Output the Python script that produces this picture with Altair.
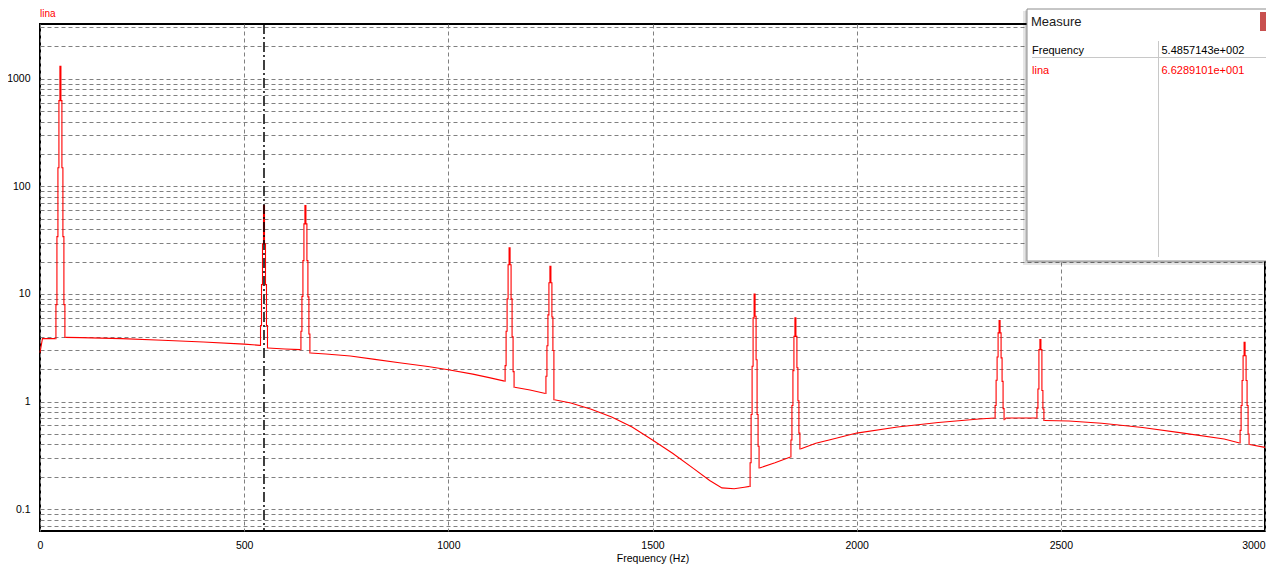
import altair as alt
import pandas as pd

# ---------------- data ----------------
# smooth background spectrum, broken into pieces between the peaks (Hz, amplitude)
base_segments = [
    [(0, 2.85), (6, 3.85), (37.8, 3.85)],
    [(62.2, 3.95), (100, 3.93), (200, 3.85), (300, 3.72), (400, 3.58), (500, 3.42), (538.8, 3.33)],
    [(558.3, 3.15), (600, 3.08), (637.8, 3.04)],
    [(662.2, 2.83), (700, 2.77), (760, 2.65), (820, 2.47), (880, 2.3), (950, 2.12),
     (1000, 1.98), (1060, 1.8), (1100, 1.67), (1137.8, 1.55)],
    [(1162.2, 1.36), (1200, 1.28), (1237.8, 1.19)],
    [(1259.8, 1.04), (1300, 0.97), (1350, 0.85), (1400, 0.72), (1450, 0.58), (1500, 0.44),
     (1550, 0.33), (1600, 0.24), (1640, 0.185), (1670, 0.158), (1700, 0.155), (1725, 0.16),
     (1737.8, 0.163)],
    [(1762.2, 0.242), (1800, 0.27), (1837.8, 0.306)],
    [(1862.2, 0.363), (1900, 0.41), (1935, 0.443), (2000, 0.51), (2100, 0.58), (2200, 0.64),
     (2300, 0.69), (2337.8, 0.705)],
    [(2362.2, 0.68), (2366, 0.705), (2440.2, 0.705)],
    [(2459.5, 0.667), (2520, 0.66), (2600, 0.63), (2700, 0.575), (2800, 0.51), (2900, 0.45),
     (2937.8, 0.413)],
    [(2962.2, 0.40), (3000, 0.376)],
]

# harmonic peaks: centre frequency and the bin levels across each peak
peak_centers = [50, 548.57, 650, 1150, 1250, 1750, 1850, 2350, 2450, 2950]
peak_levels = [
    [3.85, 7.96, 34.1, 149, 625, 1303, 625, 149, 34.1, 7.96, 3.95],
    [3.33, 5.1, 12.2, 29.2, 66.3, 29.2, 12.2, 5.1, 3.15],
    [3.04, 4.5, 9.5, 20.4, 44.8, 66.2, 44.8, 20.4, 9.4, 4.25, 2.83],
    [1.55, 2.16, 4.5, 9.0, 18.7, 26.8, 18.7, 9.0, 4.0, 1.9, 1.36],
    [1.19, 1.72, 3.3, 6.4, 12.7, 18.1, 12.7, 6.1, 2.98, 1.04],
    [0.163, 0.27, 0.76, 2.13, 6.0, 10.0, 6.2, 2.45, 0.76, 0.385, 0.242],
    [0.306, 0.44, 0.92, 1.94, 4.04, 6.0, 4.04, 2.06, 1.02, 0.51, 0.363],
    [0.705, 0.92, 1.58, 2.6, 4.35, 5.66, 4.35, 2.55, 1.54, 0.86, 0.68],
    [0.705, 0.87, 1.31, 3.04, 3.77, 3.04, 1.27, 0.855, 0.667],
    [0.413, 0.54, 0.92, 1.57, 2.67, 3.56, 2.67, 1.57, 0.92, 0.5, 0.4],
]
bin_width = 2.44  # Hz, frequency resolution

cursor_freq = 548.57
cursor_text = "5.4857143e+002"
cursor_value_text = "6.6289101e+001"

x_ticks = [0, 500, 1000, 1500, 2000, 2500, 3000]
y_grid = [0.07, 0.08, 0.09,
          0.1, 0.2, 0.3, 0.4, 0.5, 0.6, 0.7, 0.8, 0.9,
          1, 2, 3, 4, 5, 6, 7, 8, 9,
          10, 20, 30, 40, 50, 60, 70, 80, 90,
          100, 200, 300, 400, 500, 600, 700, 800, 900,
          1000, 2000, 3000]
y_labels = [0.1, 1, 10, 100, 1000]

# ---------------- tables ----------------
base_rows = []
for s, seg in enumerate(base_segments):
    for i, (f, v) in enumerate(seg):
        base_rows.append({"f": f, "v": v, "seg": s, "ord": i})
base_df = pd.DataFrame(base_rows)

peak_rows = []
for c, lv in zip(peak_centers, peak_levels):
    top = lv.index(max(lv))
    for i, v in enumerate(lv):
        peak_rows.append({"f": c + (i - top) * bin_width, "v": v, "peak": c, "ord": i})
peak_df = pd.DataFrame(peak_rows)

RED = "#ff0000"
FONT = "Liberation Sans"

x_scale = alt.Scale(domain=[0, 3000], nice=False)
y_scale = alt.Scale(type="log", domain=[0.0628, 3221], nice=False)

x_axis = alt.Axis(
    values=x_ticks, grid=True, ticks=False, tickSize=0, domain=False,
    labelPadding=9, labelFontSize=10.5, labelColor="black", format="d",
    labelAlign={"condition": {"test": "datum.value >= 3000", "value": "right"}, "value": "center"},
    title="Frequency (Hz)", titleFontSize=10.5, titleFontWeight="normal",
    titlePadding=3, titleColor="black",
)
y_axis = alt.Axis(
    values=y_grid, grid=True, ticks=False, tickSize=0, domain=False,
    labelPadding=10, labelFontSize=10.5, labelColor="black", format="~g",
    labelExpr="indexof([0.1, 1, 10, 100, 1000], datum.value) >= 0 ? datum.label : ''",
    labelOverlap=False, title=None,
)

baseline = alt.Chart(base_df).mark_line(color=RED, strokeWidth=1.1).encode(
    x=alt.X("f:Q", scale=x_scale, axis=x_axis),
    y=alt.Y("v:Q", scale=y_scale, axis=y_axis),
    detail="seg:N",
    order="ord:Q",
)

peaks = alt.Chart(peak_df).mark_line(color=RED, strokeWidth=1.1, interpolate="step").encode(
    x=alt.X("f:Q", scale=x_scale),
    y=alt.Y("v:Q", scale=y_scale),
    detail="peak:N",
    order="ord:Q",
)

cursor = alt.Chart(pd.DataFrame({"f": [cursor_freq]})).mark_rule(
    color="black", strokeWidth=1.5, strokeDash=[10, 3, 2, 3]
).encode(x=alt.X("f:Q", scale=x_scale))

one = pd.DataFrame({"a": [0]})


def box(x1, x2, y1, y2, **kw):
    return alt.Chart(one).mark_rect(**kw).encode(
        x=alt.value(x1), x2=alt.value(x2), y=alt.value(y1), y2=alt.value(y2))


def line(x1, x2, y1, y2, **kw):
    return alt.Chart(one).mark_rule(**kw).encode(
        x=alt.value(x1), x2=alt.value(x2), y=alt.value(y1), y2=alt.value(y2))


def label(txt, x, y, size=11, color="black"):
    return alt.Chart(one).mark_text(
        align="left", baseline="alphabetic", font=FONT, fontSize=size, color=color
    ).encode(x=alt.value(x), y=alt.value(y), text=alt.value(txt))


panel = [
    box(983, 1240, -13, 241, color="#000000", opacity=0.10),
    box(985, 1238, -14, 239, color="#000000", opacity=0.10),
    box(987, 1236, -15, 237, color="white", stroke="#8c8c8c", strokeWidth=1),
    box(1220, 1236, -12, 7, color="#c8504f"),
    label("Measure", 991, 2, size=13, color="#1a1a1a"),
    line(992, 1236, 33.5, 33.5, color="#c8c8c8", strokeWidth=1),
    line(1118.5, 1118.5, 17, 233, color="#c8c8c8", strokeWidth=1),
    label("Frequency", 992, 30),
    label(cursor_text, 1121.5, 30),
    label("lina", 992, 49.5, color=RED),
    label(cursor_value_text, 1121.5, 49.5, color=RED),
]

title = label("lina", 0, -7.5, size=10, color=RED)

chart = alt.layer(baseline, peaks, cursor, title, *panel).properties(
    width=1225, height=507,
    autosize=alt.AutoSizeParams(type="none"),
    padding={"left": 32, "top": 16, "right": 1, "bottom": 36},
).configure(
    font=FONT,
).configure_view(
    stroke="black", strokeWidth=2,
).configure_axis(
    gridColor="#808080", gridDash=[4, 3], gridWidth=1, gridOpacity=1,
    labelFont=FONT, titleFont=FONT,
)

chart.save("out.html", embed_options={"renderer": "svg", "actions": False})
